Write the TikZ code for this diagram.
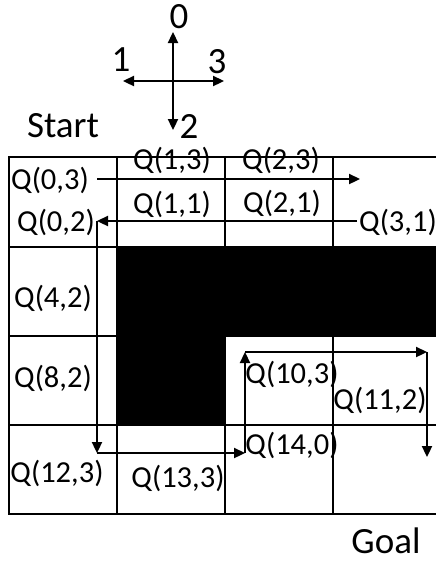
\documentclass[tikz,border=0pt]{standalone}
\usepackage{fontspec}
\setmainfont{Carlito}
\usetikzlibrary{arrows.meta}
\begin{document}
\begin{tikzpicture}[x=1pt,y=-1pt,
  grid/.style={line width=1.6pt},
  arr/.style={line width=2.3pt,-{Triangle[length=11pt,width=10pt]}},
  qlab/.style={inner sep=0pt,font=\fontsize{30.5}{34}\selectfont},
  biglab/.style={inner sep=0pt,font=\fontsize{37}{42}\selectfont}]
\useasboundingbox (0,0) rectangle (436,563);
\clip (0,0) rectangle (436,563);
% grid
\draw[grid] (9,157) rectangle (441,514);
\foreach \x in {117,225,333} \draw[grid] (\x,157) -- (\x,514);
\foreach \y in {247,336,425} \draw[grid] (9,\y) -- (441,\y);
% black obstacle
\fill (117,246) rectangle (445,336);
\fill (117,336) rectangle (225,425);
% compass
\coordinate (ctr) at (173,81);
\coordinate (cN) at (173,32);
\coordinate (cS) at (173,130);
\coordinate (cW) at (123,81);
\coordinate (cE) at (224,81);
\draw[arr] (ctr) -- (cN);
\draw[arr] (ctr) -- (cS);
\draw[arr] (ctr) -- (cW);
\draw[arr] (ctr) -- (cE);
\node[biglab] (d0) at (179,17) {0};
\node[biglab] (d1) at (121,60) {1};
\node[biglab] (d3) at (217,62) {3};
\node[biglab] (d2) at (189,126) {2};
\node[biglab] (start) at (63,126) {Start};
\node[biglab] (goal) at (386,541) {Goal};
% Q labels
\node[qlab] (q03) at (50,180) {Q(0,3)};
\node[qlab] (q02) at (56,222) {Q(0,2)};
\node[qlab] (q13) at (172,160) {Q(1,3)};
\node[qlab] (q23) at (281,160) {Q(2,3)};
\node[qlab] (q11) at (172,204) {Q(1,1)};
\node[qlab] (q21) at (282,203) {Q(2,1)};
\node[qlab] (q31) at (398,222) {Q(3,1)};
\node[qlab] (q42) at (53,298) {Q(4,2)};
\node[qlab] (q82) at (53,378) {Q(8,2)};
\node[qlab] (q103) at (292,374) {Q(10,3)};
\node[qlab] (q112) at (380,400) {Q(11,2)};
\node[qlab] (q140) at (292,445) {Q(14,0)};
\node[qlab] (q123) at (57,473) {Q(12,3)};
\node[qlab] (q133) at (178,478) {Q(13,3)};
% path arrows
\coordinate (s1) at (97,179);
\coordinate (p1) at (360,179);
\coordinate (s2) at (357,221);
\coordinate (c1) at (97,221);
\coordinate (c2) at (97,453);
\coordinate (c3) at (245,453);
\coordinate (c4) at (245,352);
\coordinate (c5) at (427,352);
\coordinate (c6) at (427,457);
\draw[arr] (s1) -- (p1);
\draw[arr] (s2) -- (c1);
\draw[arr] (c1) -- (c2);
\draw[arr] (c2) -- (c3);
\draw[arr] (c3) -- (c4);
\draw[arr] (c4) -- (c5);
\draw[arr] (c5) -- (c6);
\end{tikzpicture}
\end{document}
